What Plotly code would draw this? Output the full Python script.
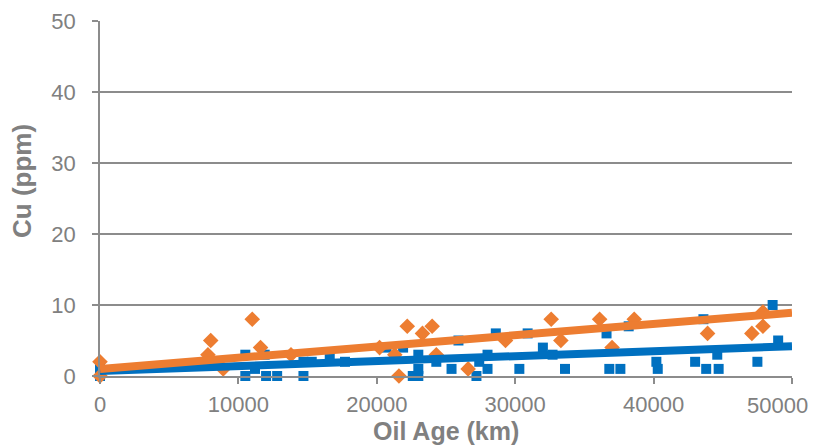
import plotly.graph_objects as go

# Series 1 (blue squares)
blue_x = [0, 0, 10500, 10500, 11200, 11900, 12000, 12800, 14700, 14700, 15300, 16600,
          17700, 20700, 21900, 22600, 23000, 23000, 23000, 24300, 25400, 25900, 27200,
          27400, 28000, 28000, 28600, 30300, 30900, 32000, 32700, 33600, 36600, 36800,
          37600, 38200, 40200, 40300, 43000, 43600, 43800, 44600, 44700, 47500, 48600, 49000]
blue_y = [0, 1, 3, 0, 1, 3, 0, 0, 0, 2, 2, 3,
          2, 4, 4, 0, 0, 1, 3, 2, 1, 5, 0,
          2, 1, 3, 6, 1, 6, 4, 3, 1, 6, 1,
          1, 7, 2, 1, 2, 8, 1, 3, 1, 2, 10, 5]

# Series 2 (orange diamonds)
orange_x = [0, 0, 7800, 8000, 8900, 11000, 11600, 13800, 20200, 21300, 21600, 22200,
            23300, 24000, 24300, 26600, 29300, 32600, 33300, 36100, 37000, 38600,
            43900, 47100, 47900, 47900]
orange_y = [2, 0, 3, 5, 1, 8, 4, 3, 4, 3, 0, 7,
            6, 7, 3, 1, 5, 8, 5, 8, 4, 8,
            6, 6, 7, 9]

# Linear trendlines (endpoints)
trend_x = [0, 50000]
blue_trend = [0.7, 4.2]
orange_trend = [1.0, 8.9]

x_ticks = [0, 10000, 20000, 30000, 40000, 50000]
x_tick_labels = ["0", "10000", "20000", "30000", "40000", "50000"]
y_ticks = [0, 10, 20, 30, 40, 50]

BLUE = "#0070C0"
ORANGE = "#ED7D31"
GRAY = "#808080"
GRID = "#8c8c8c"
FONT = "Liberation Sans, Arial, sans-serif"

# the last label is pulled inside the chart (as in the reference), drawn right-aligned
x_text = x_tick_labels[:-1] + [""]

fig = go.Figure()
fig.add_trace(go.Scatter(x=blue_x, y=blue_y, mode="markers", cliponaxis=False,
                         marker=dict(symbol="square", size=10, color=BLUE), showlegend=False))
fig.add_trace(go.Scatter(x=orange_x, y=orange_y, mode="markers", cliponaxis=False,
                         marker=dict(symbol="diamond", size=12, color=ORANGE), showlegend=False))
fig.add_trace(go.Scatter(x=trend_x, y=blue_trend, mode="lines", cliponaxis=False,
                         line=dict(color=BLUE, width=8), showlegend=False))
fig.add_trace(go.Scatter(x=trend_x, y=orange_trend, mode="lines", cliponaxis=False,
                         line=dict(color=ORANGE, width=8), showlegend=False))

fig.update_layout(
    width=819, height=439,
    margin=dict(l=92, r=35, t=13, b=71),
    paper_bgcolor="white", plot_bgcolor="white",
    font=dict(family=FONT, color=GRAY, size=22),
    annotations=[
        dict(text=x_tick_labels[-1], xref="x", yref="paper",
             x=x_ticks[-1], y=-29.5 / 355, xanchor="right", yanchor="middle",
             xshift=17, showarrow=False, borderpad=0, font=dict(size=22, color=GRAY)),
        dict(text="<b>Oil Age (km)</b>", xref="paper", yref="paper",
             x=0.5, y=-55 / 355, xanchor="center", yanchor="middle",
             showarrow=False, font=dict(size=25, color=GRAY)),
        dict(text="<b>Cu (ppm)</b>", xref="paper", yref="paper", textangle=-90,
             x=-78 / 692, y=195 / 355, xanchor="center", yanchor="middle",
             showarrow=False, font=dict(size=26, color=GRAY)),
    ],
)
fig.update_xaxes(
    range=[0, 50000], tickvals=x_ticks, ticktext=x_text,
    automargin=False,
    showgrid=False, zeroline=False, showline=True, linecolor=GRID, linewidth=1.5,
    ticks="outside", ticklen=6, tickcolor=GRID, tickwidth=1.5,
    tickfont=dict(size=22, color=GRAY), ticklabelstandoff=2,
)
fig.update_yaxes(
    range=[0, 50], tickvals=y_ticks, automargin=False,
    showgrid=True, gridcolor=GRID, gridwidth=1.5, zeroline=False,
    showline=True, linecolor=GRID, linewidth=1.5,
    ticks="outside", ticklen=6, tickcolor=GRID, tickwidth=1.5,
    tickfont=dict(size=22, color=GRAY), ticklabelstandoff=12,
)

fig.write_html("out.html")
